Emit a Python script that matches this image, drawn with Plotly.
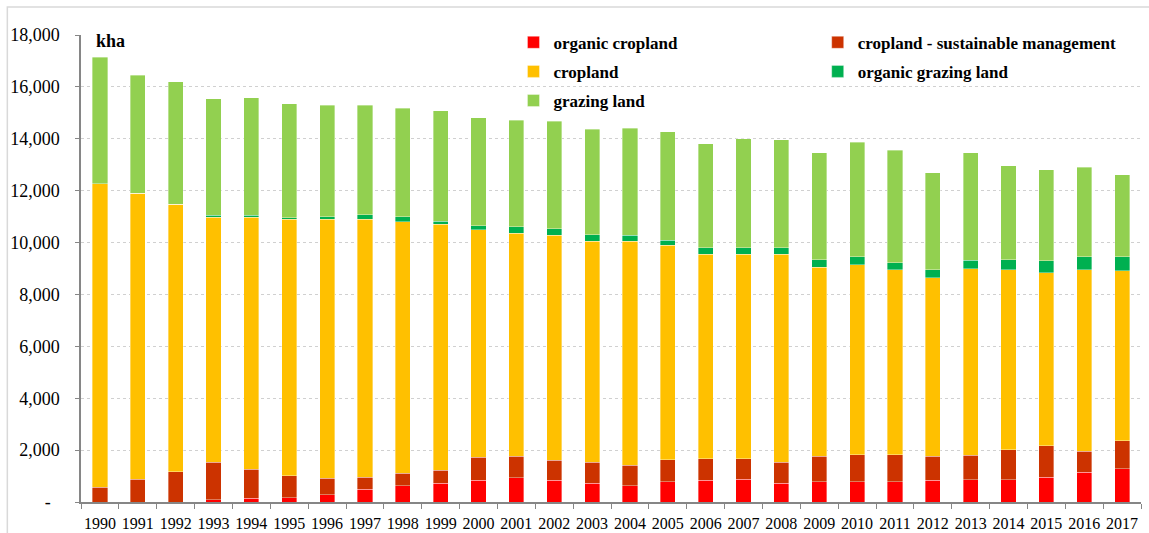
import plotly.graph_objects as go

# Agricultural land by management type, thousand hectares
years = [str(y) for y in range(1990, 2018)]

organic_cropland = [0, 0, 0, 90, 150, 170, 280, 500, 620, 725, 830, 930, 830, 725,
                    620, 775, 830, 880, 725, 775, 775, 775, 830, 860, 860, 960, 1150, 1290]
cropland_sustainable = [570, 880, 1170, 1440, 1110, 850, 635, 455, 490, 495, 890, 830, 780, 805,
                        795, 845, 840, 790, 805, 985, 1040, 1040, 930, 950, 1150, 1210, 810, 1070]
cropland = [11700, 11030, 10310, 9450, 9720, 9880, 9985, 9945, 9700, 9480, 8780, 8600, 8680, 8520,
            8635, 8280, 7870, 7870, 8010, 7290, 7325, 7135, 6880, 7190, 6940, 6660, 6990, 6550]
organic_grazing = [0, 0, 0, 70, 70, 50, 90, 170, 180, 130, 140, 240, 240, 245,
                   240, 190, 256, 256, 256, 280, 310, 280, 310, 320, 385, 460, 500, 540]
grazing_land = [4880, 4540, 4720, 4490, 4540, 4400, 4300, 4220, 4180, 4250, 4180, 4120, 4140, 4065,
                4120, 4180, 4014, 4214, 4164, 4130, 4410, 4330, 3750, 4140, 3625, 3520, 3460, 3170]

y_ticks = list(range(0, 18001, 2000))
y_tick_text = ["-\u00a0\u00a0"] + [f"{v:,}" for v in y_ticks[1:]]

series = [
    ("organic cropland", organic_cropland, "#FF0000", "legend"),
    ("cropland - sustainable management", cropland_sustainable, "#CC3300", "legend2"),
    ("cropland", cropland, "#FFC000", "legend"),
    ("organic grazing land", organic_grazing, "#00B050", "legend2"),
    ("grazing land", grazing_land, "#92D050", "legend"),
]

fig = go.Figure()
for name, values, color, leg in series:
    fig.add_trace(go.Bar(
        x=years, y=values, name=name, legend=leg, legendgroup=name,
        marker=dict(color=color, line=dict(color="rgba(255,255,255,0.45)", width=0.8)),
    ))

serif = "Liberation Serif"
legend_font = dict(family=serif, size=17, color="#000000", weight="bold")

fig.update_layout(
    width=1149, height=533,
    margin=dict(l=81, r=8, t=35, b=31),
    barmode="stack", bargap=0.6,
    paper_bgcolor="white", plot_bgcolor="white",
    font=dict(family=serif, color="#000000"),
    legend=dict(
        x=0.408, y=1.022, xanchor="left", yanchor="top",
        traceorder="grouped", tracegroupgap=4,
        font=legend_font, bgcolor="rgba(0,0,0,0)",
    ),
    legend2=dict(
        x=0.695, y=1.022, xanchor="left", yanchor="top",
        traceorder="grouped", tracegroupgap=4,
        font=legend_font, bgcolor="rgba(0,0,0,0)",
    ),
    xaxis=dict(
        type="category", tickson="boundaries", tickangle=0, automargin=False,
        ticks="outside", ticklen=5, tickcolor="#868686",
        showline=True, linecolor="#868686", linewidth=1.5,
        showgrid=False, tickfont=dict(family=serif, size=16),
        ticklabelstandoff=6,
    ),
    yaxis=dict(
        range=[0, 18000], tickvals=y_ticks, ticktext=y_tick_text, automargin=False,
        ticks="outside", ticklen=4, tickcolor="#868686",
        showline=True, linecolor="#868686", linewidth=1.5,
        showgrid=True, gridcolor="#d0d0d0", griddash="dot", gridwidth=1,
        zeroline=False, tickfont=dict(family=serif, size=18),
        ticklabelstandoff=12,
    ),
    annotations=[dict(
        text="<b>kha</b>", x=0.0125, y=0.987, xref="paper", yref="paper",
        xanchor="left", yanchor="middle", showarrow=False,
        font=dict(family=serif, size=18, color="#000000"),
    )],
    shapes=[dict(
        type="rect", xref="paper", yref="paper",
        x0=-0.0695, y0=-0.2, x1=1.05, y1=1.0598,
        line=dict(color="#d9d9d9", width=1.5), fillcolor="rgba(0,0,0,0)", layer="below",
    )],
)

fig.write_html("out.html")
